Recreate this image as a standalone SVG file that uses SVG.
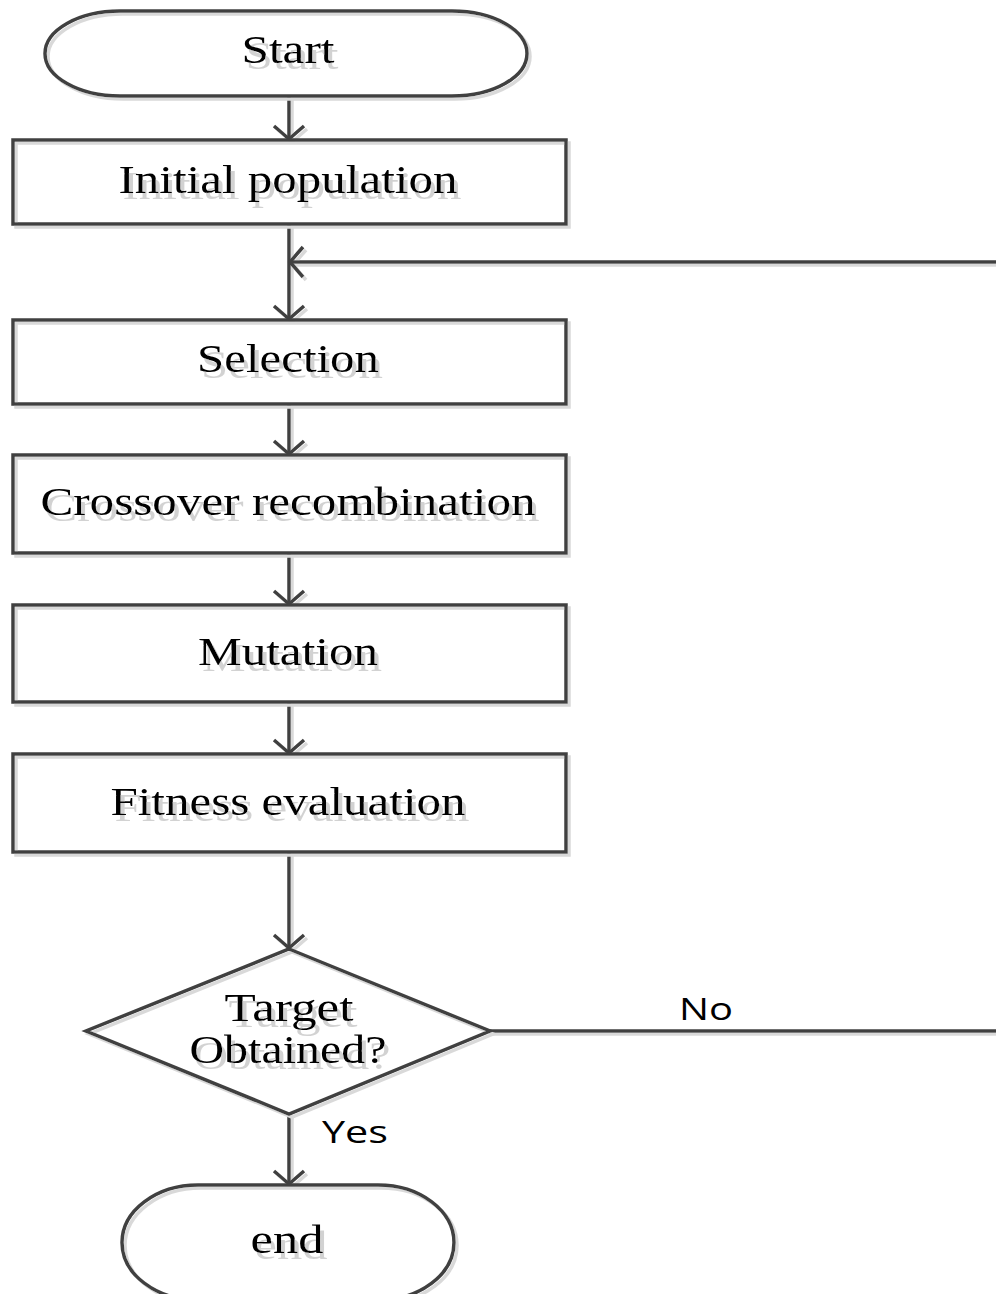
<svg xmlns="http://www.w3.org/2000/svg" width="996" height="1294" viewBox="0 0 996 1294">
  <style>
    .shape { fill: none; stroke: #404040; stroke-width: 3.5; }
    .edge { fill: none; stroke: #404040; stroke-width: 3.5; }
    .lbl { font-family: "Liberation Serif", "Times New Roman", serif; font-size: 41px; fill: #000; text-anchor: middle; }
    .tag { font-family: "Open Sans", "Liberation Sans", sans-serif; font-size: 31px; fill: #000; }
  </style>
  <defs>
    <!-- soft grey drop shadow for outlines and connectors -->
    <filter id="shadow" filterUnits="userSpaceOnUse" x="0" y="0" width="996" height="1294">
      <feOffset in="SourceAlpha" dx="3" dy="3" result="off"/>
      <feFlood flood-color="#d9d9d9"/>
      <feComposite in2="off" operator="in" result="sh"/>
      <feMerge><feMergeNode in="sh"/><feMergeNode in="SourceGraphic"/></feMerge>
    </filter>
    <!-- lighter, larger offset shadow for serif labels -->
    <filter id="tshadow" filterUnits="userSpaceOnUse" x="0" y="0" width="996" height="1294">
      <feOffset in="SourceAlpha" dx="4" dy="6" result="off"/>
      <feFlood flood-color="#d2d2d2"/>
      <feComposite in2="off" operator="in" result="sh"/>
      <feMerge><feMergeNode in="sh"/><feMergeNode in="SourceGraphic"/></feMerge>
    </filter>
    <marker id="arrow" markerUnits="userSpaceOnUse" markerWidth="40" markerHeight="40" refX="0" refY="0" viewBox="-20 -20 40 40" orient="auto" overflow="visible">
      <path d="M -13 -15 L 0 0 L -13 15" fill="none" stroke="#404040" stroke-width="3.5"/>
    </marker>
  </defs>

  <g id="connectors" filter="url(#shadow)">
    <line class="edge" x1="289" y1="97" x2="289" y2="139" marker-end="url(#arrow)"/>
    <line class="edge" x1="289" y1="224" x2="289" y2="319" marker-end="url(#arrow)"/>
    <line class="edge" x1="996" y1="262" x2="290" y2="262" marker-end="url(#arrow)"/>
    <line class="edge" x1="289" y1="404" x2="289" y2="454" marker-end="url(#arrow)"/>
    <line class="edge" x1="289" y1="553" x2="289" y2="604" marker-end="url(#arrow)"/>
    <line class="edge" x1="289" y1="702" x2="289" y2="753" marker-end="url(#arrow)"/>
    <line class="edge" x1="289" y1="852" x2="289" y2="948" marker-end="url(#arrow)"/>
    <line class="edge" x1="289" y1="1114" x2="289" y2="1184" marker-end="url(#arrow)"/>
    <line class="edge" x1="490" y1="1031" x2="996" y2="1031"/>
  </g>
  <g id="edge-labels">
    <text class="tag" x="679" y="1020" textLength="54" lengthAdjust="spacingAndGlyphs">No</text>
    <text class="tag" x="322" y="1143" textLength="66" lengthAdjust="spacingAndGlyphs">Yes</text>
  </g>

  <g id="start">
    <rect class="shape" filter="url(#shadow)" x="45" y="11" width="482" height="85" rx="75" ry="42.5"/>
    <text class="lbl" filter="url(#tshadow)" x="288" y="63" textLength="93" lengthAdjust="spacingAndGlyphs">Start</text>
  </g>

  <g id="initial-population">
    <rect class="shape" filter="url(#shadow)" x="13" y="140" width="553" height="84"/>
    <text class="lbl" filter="url(#tshadow)" x="288" y="193" textLength="339" lengthAdjust="spacingAndGlyphs">Initial population</text>
  </g>

  <g id="selection">
    <rect class="shape" filter="url(#shadow)" x="13" y="320" width="553" height="84"/>
    <text class="lbl" filter="url(#tshadow)" x="288" y="372" textLength="182" lengthAdjust="spacingAndGlyphs">Selection</text>
  </g>

  <g id="crossover">
    <rect class="shape" filter="url(#shadow)" x="13" y="455" width="553" height="98"/>
    <text class="lbl" filter="url(#tshadow)" x="288" y="515" textLength="495" lengthAdjust="spacingAndGlyphs">Crossover recombination</text>
  </g>

  <g id="mutation">
    <rect class="shape" filter="url(#shadow)" x="13" y="605" width="553" height="97"/>
    <text class="lbl" filter="url(#tshadow)" x="288" y="665" textLength="180" lengthAdjust="spacingAndGlyphs">Mutation</text>
  </g>

  <g id="fitness-evaluation">
    <rect class="shape" filter="url(#shadow)" x="13" y="754" width="553" height="98"/>
    <text class="lbl" filter="url(#tshadow)" x="288" y="815" textLength="355" lengthAdjust="spacingAndGlyphs">Fitness evaluation</text>
  </g>

  <g id="target-obtained">
    <polygon class="shape" filter="url(#shadow)" points="289,949 490,1031 289,1114 86,1031"/>
    <text class="lbl" filter="url(#tshadow)" x="289" y="1021" textLength="129" lengthAdjust="spacingAndGlyphs">Target</text>
    <text class="lbl" filter="url(#tshadow)" x="288" y="1063" textLength="197" lengthAdjust="spacingAndGlyphs">Obtained?</text>
  </g>

  <g id="end">
    <rect class="shape" filter="url(#shadow)" x="122" y="1185" width="332" height="115" rx="76" ry="57.5"/>
    <text class="lbl" filter="url(#tshadow)" x="287" y="1253" textLength="73" lengthAdjust="spacingAndGlyphs">end</text>
  </g>
</svg>
